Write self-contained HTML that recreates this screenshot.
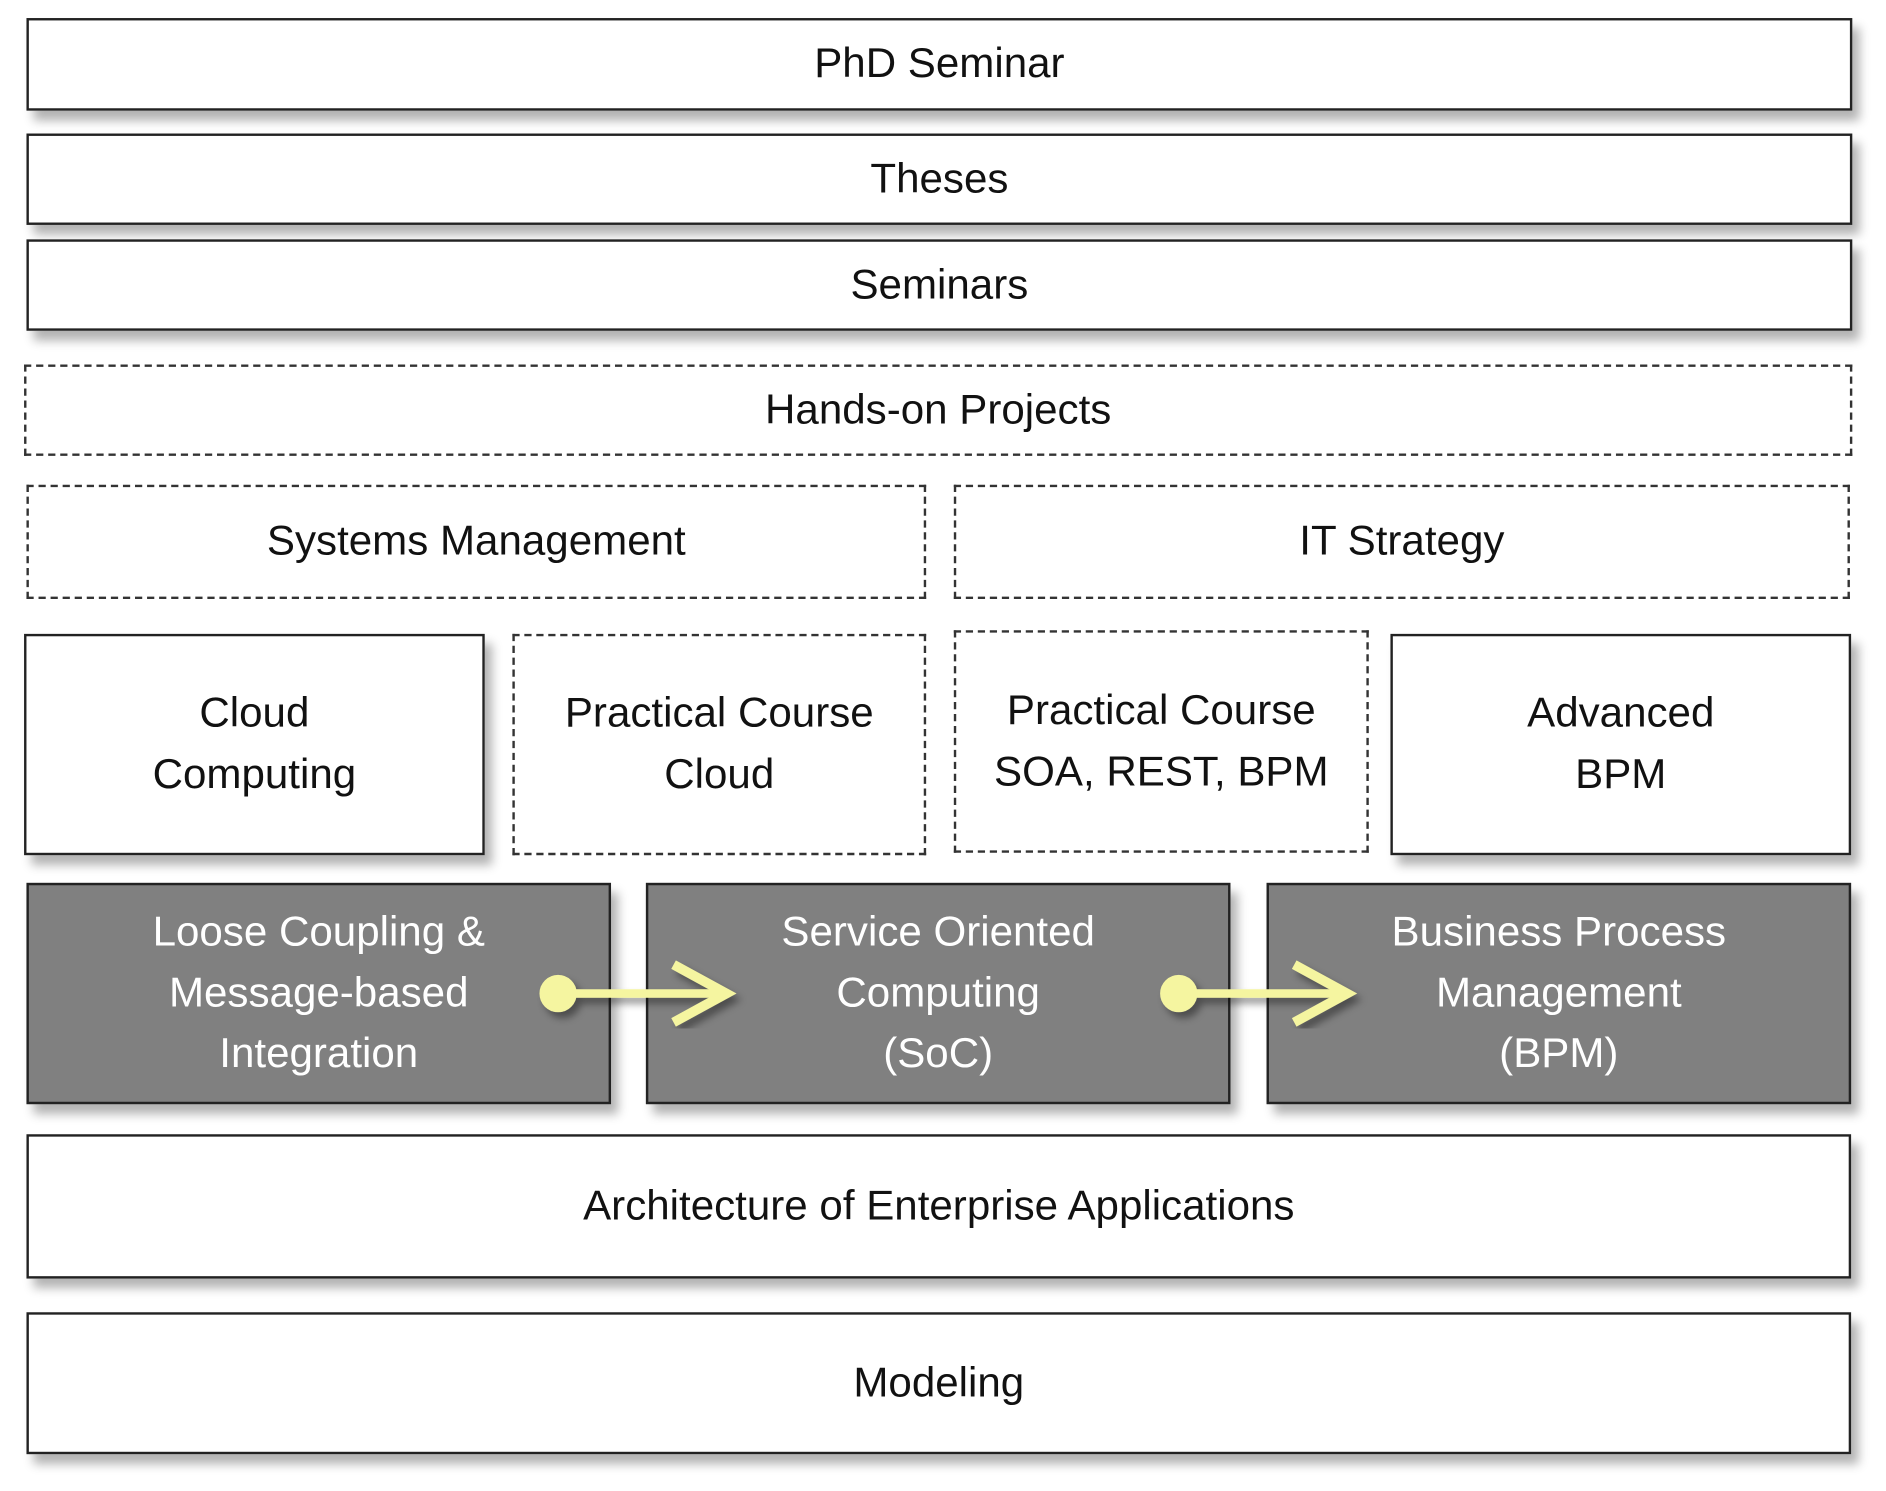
<!DOCTYPE html>
<html><head><meta charset="utf-8"><style>
html,body{margin:0;padding:0;background:#fff;}
body{width:1886px;height:1484px;overflow:hidden;position:relative;}
#w{position:absolute;left:0;top:0;width:1568px;height:1240px;transform-origin:0 0;transform:scale(1.2028,1.2028);}
.b{position:absolute;box-sizing:border-box;border:2px solid #222;background:#fff;display:flex;align-items:center;justify-content:center;text-align:center;font-family:"Liberation Sans",sans-serif;font-size:35px;color:#111;line-height:1.45;box-shadow:6px 8px 8px rgba(0,0,0,0.3);}
.d{border:2px dashed #333;box-shadow:none;}
.g{background:#808080;color:#fff;}
</style></head><body><div id="w">
<div class="b" style="left:22px;top:15px;width:1518px;height:77px">PhD Seminar</div>
<div class="b" style="left:22px;top:111px;width:1518px;height:76px">Theses</div>
<div class="b" style="left:22px;top:199px;width:1518px;height:76px">Seminars</div>
<div class="b d" style="left:20px;top:303px;width:1520px;height:76px">Hands-on Projects</div>
<div class="b d" style="left:22px;top:403px;width:748px;height:95px">Systems Management</div>
<div class="b d" style="left:793px;top:403px;width:745px;height:95px">IT Strategy</div>
<div class="b" style="left:20px;top:527px;width:383px;height:184px">Cloud<br>Computing</div>
<div class="b d" style="left:426px;top:527px;width:344px;height:184px">Practical Course<br>Cloud</div>
<div class="b d" style="left:793px;top:524px;width:345px;height:185px">Practical Course<br>SOA, REST, BPM</div>
<div class="b" style="left:1156px;top:527px;width:383px;height:184px">Advanced<br>BPM</div>
<div class="b g" style="left:22px;top:734px;width:486px;height:184px">Loose Coupling &amp;<br>Message-based<br>Integration</div>
<div class="b g" style="left:537px;top:734px;width:486px;height:184px">Service Oriented<br>Computing<br>(SoC)</div>
<div class="b g" style="left:1053px;top:734px;width:486px;height:184px">Business Process<br>Management<br>(BPM)</div>
<div class="b" style="left:22px;top:943px;width:1517px;height:120px">Architecture of Enterprise Applications</div>
<div class="b" style="left:22px;top:1091px;width:1517px;height:118px">Modeling</div>
<svg style="position:absolute;left:0;top:0" width="1568" height="1240">
<defs><filter id="s"><feDropShadow dx="4" dy="5" stdDeviation="3" flood-opacity="0.4"/></filter></defs>
<g fill="#f5f5a0" stroke="#f5f5a0" filter="url(#s)">
<circle cx="464" cy="826" r="15"/>
<line x1="464" y1="826" x2="600" y2="826" stroke-width="7"/>
<polyline points="560,802 604,826 560,850" fill="none" stroke-width="8"/>
<circle cx="980" cy="826" r="15"/>
<line x1="980" y1="826" x2="1116" y2="826" stroke-width="7"/>
<polyline points="1076,802 1120,826 1076,850" fill="none" stroke-width="8"/>
</g></svg>
</div></body></html>
